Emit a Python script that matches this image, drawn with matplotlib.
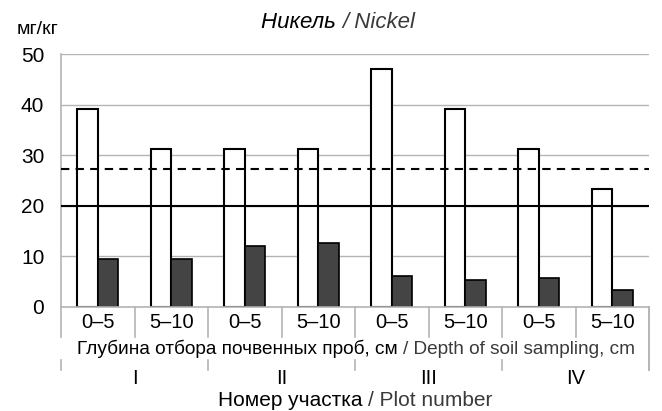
"""Nickel content in soil by plot and sampling depth."""

import matplotlib
matplotlib.use("Agg")
import matplotlib.pyplot as plt
from matplotlib.offsetbox import AnnotationBbox, HPacker, TextArea

depths = ["0–5", "5–10", "0–5", "5–10", "0–5", "5–10", "0–5", "5–10"]
plots = ["I", "II", "III", "IV"]
nickel_total = [39.2, 31.3, 31.3, 31.3, 47.1, 39.2, 31.3, 23.4]
nickel_mobile = [9.5, 9.5, 12.1, 12.7, 6.1, 5.3, 5.8, 3.4]
level_dashed = 27.3
level_solid = 20
y_ticks = [0, 10, 20, 30, 40, 50]

plt.rcParams["font.family"] = ["Liberation Sans", "DejaVu Sans"]
GREY_TEXT = "#3a3a3a"
GRID = "#b4b4b4"
W, H = 662, 411


def two_tone(fig, x, y, first, second, size, style="normal"):
    parts = [TextArea(first, textprops=dict(size=size, color="black", style=style)),
             TextArea(second, textprops=dict(size=size, color=GREY_TEXT, style=style))]
    box = HPacker(children=parts, pad=0, sep=0, align="baseline")
    fig.add_artist(AnnotationBbox(box, (x / W, 1 - y / H), xycoords="figure fraction",
                                  box_alignment=(0.5, 0.5), frameon=False, pad=0))


fig = plt.figure(figsize=(W / 100, H / 100), dpi=100)
ax = fig.add_axes([61 / W, 1 - 307 / H, 588 / W, 253 / H])

x = list(range(len(depths)))
width = 0.28
ax.bar([i - 0.14 for i in x], nickel_total, width, color="white", edgecolor="black", linewidth=1.5, zorder=2)
ax.bar([i + 0.14 for i in x], nickel_mobile, width, color="#444444", edgecolor="black", linewidth=1.2, zorder=2)
ax.axhline(level_dashed, color="black", linestyle=(0, (4, 3)), linewidth=1.5, zorder=3)
ax.axhline(level_solid, color="black", linewidth=1.5, zorder=3)

ax.set_xlim(-0.5, len(depths) - 0.5)
ax.set_ylim(0, 50)
ax.set_yticks(y_ticks)
ax.set_yticklabels([str(v) for v in y_ticks], fontsize=15)
ax.set_xticks(x)
ax.set_xticklabels(depths, fontsize=14.5)
ax.tick_params(axis="both", length=0)
ax.tick_params(axis="y", pad=12)
ax.tick_params(axis="x", pad=4)
ax.grid(axis="y", color=GRID, linewidth=1, zorder=0)
ax.set_axisbelow(True)
for side in ("top", "right"):
    ax.spines[side].set_visible(False)
for side in ("left", "bottom"):
    ax.spines[side].set_color(GRID)
    ax.spines[side].set_linewidth(1.2)

# table-style separators under the axis
trans = ax.get_xaxis_transform()
px = 1 / 253
for b in range(len(depths)):
    ax.plot([b - 0.5, b - 0.5], [0, -30 * px], color=GRID, linewidth=1.2, transform=trans, clip_on=False)
for b in range(0, len(depths), 2):
    ax.plot([b - 0.5, b - 0.5], [-53 * px, -63 * px], color=GRID, linewidth=1.2, transform=trans, clip_on=False)
end = len(depths) - 0.5
ax.plot([end, end], [0, -63 * px], color=GRID, linewidth=1.4, transform=trans, clip_on=False)

for k, name in enumerate(plots):
    ax.text(2 * k + 0.5, -72 * px, name, transform=trans, ha="center", va="center", fontsize=14.5)

fig.text(17 / W, 1 - 30 / H, "мг/кг", fontsize=14, va="center", ha="left")
two_tone(fig, 338, 22, "Никель ", "/ Nickel", 16, style="italic")
two_tone(fig, 356, 349, "Глубина отбора почвенных проб, см ", "/ Depth of soil sampling, cm", 13.7)
two_tone(fig, 355, 400, "Номер участка ", "/ Plot number", 15)

fig.savefig("out.png", dpi=100)
